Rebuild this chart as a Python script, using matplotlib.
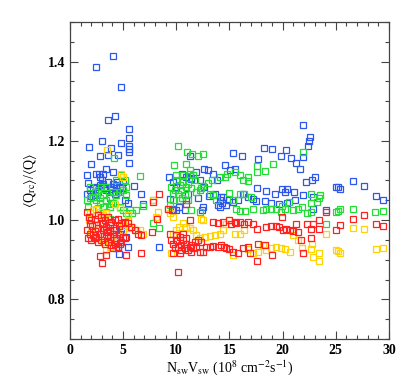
import matplotlib
matplotlib.use("Agg")
import matplotlib.pyplot as plt
from matplotlib.ticker import MultipleLocator

plt.rcParams["font.family"] = ["Liberation Serif", "DejaVu Serif"]
plt.rcParams["mathtext.fontset"] = "stix"

# blue series (x, y)
blue_x = [2.41, 4.08, 4.76, 3.57, 4.26, 5.55, 5.55, 5.55, 5.58, 5.55, 5.55, 1.79, 3.01, 4.80,
          2.00, 2.79, 3.86, 3.61, 4.51, 1.63, 2.76, 3.35, 4.04, 1.69, 5.99, 5.49, 6.65, 6.90,
          8.34, 4.61, 4.51,
          1.63, 1.85, 2.16, 2.48, 2.79, 3.10, 3.42, 3.73, 4.04, 4.36, 4.67, 4.98, 4.51, 4.20,
          2.79, 3.10, 2.48, 2.32, 3.73, 5.14, 4.67, 4.51, 4.83, 5.30, 5.45, 4.36,
          2.00, 2.60, 3.25, 3.90, 4.40, 4.90, 3.00, 3.55,
          21.91, 22.60, 22.48, 22.40, 18.28, 19.03, 20.31, 19.87, 20.81, 21.30, 21.60, 17.65,
          15.33, 16.20, 21.87, 22.20, 23.00, 22.80, 17.55, 18.40, 19.28, 19.90, 20.44, 21.07,
          20.20, 24.98, 25.20, 25.36, 26.65, 27.68, 28.75, 29.44, 24.10, 22.90, 22.87, 21.87,
          21.20, 20.40, 19.70, 18.90, 18.30, 17.50, 17.20, 16.70, 16.27, 15.80, 15.30, 15.00,
          14.40, 14.08, 13.90, 13.60, 13.10, 12.60, 12.50, 12.40, 12.00, 12.20, 11.90, 11.35,
          11.30, 12.60, 13.00, 13.50, 14.60, 15.05, 15.50, 13.80,
          9.31, 9.69, 10.00, 9.37, 9.69, 10.00, 10.30, 10.78, 10.90, 11.10, 10.50, 10.90,
          11.40, 14.20, 14.30, 14.70, 14.10]
blue_y = [1.385, 1.414, 1.337, 1.253, 1.262, 1.230, 1.206, 1.188, 1.180, 1.173, 1.145, 1.184,
          1.199, 1.195, 1.141, 1.163, 1.182, 1.165, 1.165, 1.113, 1.117, 1.129, 1.121, 1.093,
          1.087, 1.042, 1.067, 1.040, 0.931, 0.914, 0.933,
          1.067, 1.075, 1.080, 1.084, 1.088, 1.092, 1.075, 1.084, 1.092, 1.088, 1.084, 1.096,
          1.071, 1.067, 1.109, 1.117, 1.117, 1.063, 1.055, 1.050, 0.950, 0.966, 0.975, 0.958,
          0.933, 0.929,
          1.060, 1.070, 1.082, 1.078, 1.096, 1.080, 1.100, 1.096,
          1.240, 1.210, 1.199, 1.186, 1.181, 1.180, 1.178, 1.163, 1.157, 1.144, 1.130, 1.155,
          1.169, 1.163, 1.159, 1.096, 1.109, 1.101, 1.080, 1.073, 1.067, 1.079, 1.078, 1.072,
          1.071, 1.083, 1.083, 1.079, 1.098, 1.086, 1.061, 1.050, 1.025, 1.027, 1.059, 1.063,
          1.050, 1.042, 1.040, 1.042, 1.049, 1.048, 1.053, 1.059, 1.065, 1.050, 1.046, 1.052,
          1.059, 1.052, 1.039, 1.067, 1.061, 1.084, 1.034, 1.025, 1.055, 1.101, 1.121, 1.103,
          1.161, 1.130, 1.126, 1.117, 1.139, 1.126, 1.129, 1.101,
          1.109, 1.096, 1.084, 1.054, 1.029, 1.025, 1.034, 1.025, 1.050, 1.067, 1.117, 1.109,
          1.105, 1.059, 1.042, 1.038, 1.034]

# green series
green_x = [1.63, 1.85, 2.16, 2.48, 2.79, 3.10, 3.42, 3.73, 4.04, 4.36, 4.67, 4.98, 5.30, 5.14,
           4.83, 4.36, 3.42, 2.95, 2.63, 2.32, 1.85, 4.04, 3.73, 3.10, 2.79, 3.42, 4.67, 4.98,
           5.30, 5.61, 5.86, 6.24, 6.61, 6.87, 1.79, 1.69, 4.14, 5.30, 3.73, 3.89, 2.63,
           10.00, 10.31, 10.63, 10.94, 10.47, 10.16, 9.84, 10.78, 11.10, 11.41, 10.56, 11.10,
           10.31, 11.72, 11.57, 11.25, 10.63, 10.00, 9.53, 9.69,
           10.19, 11.03, 11.50, 12.07, 12.50, 9.75, 10.88, 11.32, 21.93, 19.10, 17.62, 18.31,
           17.62, 16.77, 16.27, 16.77, 15.95, 15.48, 14.79, 14.60, 14.07, 13.40, 12.98, 12.50,
           12.20, 11.90, 26.65, 28.65, 29.43, 25.20, 25.36, 24.98, 24.10, 23.48, 23.38, 23.26,
           22.70, 22.70, 22.70, 22.30, 21.85, 21.40, 20.97, 20.60, 20.20, 19.97, 19.87, 19.40,
           18.90, 18.40, 18.15, 17.20, 16.43, 15.95, 15.64, 15.33, 15.00, 15.95, 16.40, 17.05,
           13.76, 13.45, 13.14, 12.35, 11.40, 12.20, 9.69, 9.37, 9.22, 7.84, 8.37, 7.78]
green_y = [1.050, 1.055, 1.059, 1.050, 1.055, 1.063, 1.050, 1.059, 1.071, 1.063, 1.071, 1.075,
           1.084, 1.101, 1.113, 1.101, 1.084, 1.084, 1.075, 1.071, 1.084, 1.042, 1.034, 1.034,
           1.042, 1.021, 1.034, 1.025, 1.017, 1.025, 1.018, 1.025, 1.111, 1.035, 1.008, 1.034,
           1.157, 1.063, 1.002, 1.040, 1.030,
           1.101, 1.088, 1.096, 1.084, 1.075, 1.067, 1.075, 1.063, 1.092, 1.080, 1.055, 1.050,
           1.050, 1.101, 1.113, 1.117, 1.113, 1.113, 1.084, 1.067,
           1.187, 1.173, 1.166, 1.162, 1.166, 1.138, 1.142, 1.127, 1.173, 1.142, 1.136, 1.124,
           1.122, 1.108, 1.101, 1.098, 1.114, 1.122, 1.116, 1.109, 1.109, 1.101, 1.094, 1.086,
           1.075, 1.071, 1.029, 1.020, 1.023, 1.023, 1.027, 1.020, 0.990, 1.064, 1.055, 1.046,
           1.065, 1.042, 1.021, 1.017, 1.034, 1.027, 1.025, 1.046, 1.029, 1.035, 1.021, 1.029,
           1.029, 1.029, 1.025, 1.029, 1.023, 1.022, 1.029, 1.050, 1.069, 1.067, 1.067, 1.059,
           1.050, 1.063, 1.067, 1.080, 1.025, 1.021, 1.050, 1.038, 1.027, 0.992, 0.979, 1.050]

# yellow series
yellow_x = [2.79, 2.48, 2.16, 1.85, 3.10, 3.42, 3.45, 4.83, 4.98, 3.73, 3.42, 4.98,
            2.00, 2.60, 3.10, 3.90, 4.50, 5.00, 4.70, 4.20, 3.60, 2.30, 5.20, 5.60, 1.80, 3.00,
            26.65, 27.68, 28.75, 29.44, 25.20, 25.36, 24.98, 24.10, 23.38, 23.38, 22.87, 22.70,
            22.80, 21.85, 21.45, 20.97, 20.65, 20.20, 19.87, 19.40, 18.90, 18.45, 18.15, 17.68,
            17.20, 16.73, 16.40, 15.95, 15.48, 15.33, 15.00, 14.70, 14.40, 14.07, 13.60, 13.14,
            12.66, 12.20, 11.90, 11.57, 11.25, 10.94, 10.60, 10.30, 10.00, 9.69, 9.37, 9.69,
            9.53, 8.12, 8.24, 7.78, 6.87, 6.55, 6.17, 5.80, 5.45, 5.45, 12.50, 12.35]
yellow_y = [1.021, 1.029, 1.025, 1.017, 1.013, 1.017, 1.177, 1.117, 1.109, 0.933, 0.924, 0.975,
            0.970, 0.955, 0.945, 0.950, 0.960, 0.990, 1.030, 1.040, 1.005, 0.990, 0.985, 0.980,
            1.000, 0.980,
            0.980, 0.977, 0.926, 0.929, 0.923, 0.916, 0.924, 0.966, 0.897, 0.916, 0.908, 0.926,
            0.941, 0.929, 0.950, 0.962, 0.920, 0.926, 0.929, 0.931, 0.929, 0.924, 0.937, 0.919,
            0.916, 0.926, 0.975, 0.966, 0.965, 0.912, 1.000, 0.990, 0.975, 0.966, 0.962, 0.960,
            0.958, 0.954, 0.962, 0.975, 0.979, 0.983, 0.992, 0.983, 0.975, 0.966, 1.017, 1.008,
            0.916, 1.007, 1.020, 1.052, 0.966, 0.975, 0.975, 0.983, 1.000, 1.013, 1.000, 1.004]

# red series
red_x = [1.63, 1.79, 2.01, 2.32, 2.63, 2.95, 3.26, 3.57, 3.89, 4.20, 4.51, 4.83, 5.14, 5.45,
         5.77, 6.08, 6.39, 6.71, 1.63, 1.85, 2.16, 2.48, 2.79, 3.10, 3.42, 3.73, 4.04, 4.36,
         4.67, 4.98, 1.69, 2.01, 2.32, 2.63, 2.95, 3.26, 3.57, 3.89, 4.20, 4.51, 4.83, 5.14,
         3.10, 3.73, 4.36, 4.04, 3.04, 2.82, 3.35, 5.30, 6.65,
         2.10, 2.60, 3.20, 3.45, 3.80, 4.10, 4.30, 4.60, 3.00, 3.60, 2.40, 4.75, 1.90,
         8.37, 7.80, 8.18, 7.75, 9.22, 9.37, 9.62, 10.19,
         9.69, 10.00, 10.31, 10.63, 10.94, 11.25, 11.57, 11.88, 10.47, 10.16, 9.84, 10.78,
         11.10, 11.41, 11.72, 10.00, 9.53, 10.94, 10.47, 9.69, 10.31, 11.41, 11.32, 10.88, 10.60,
         29.44, 28.75, 27.68, 26.65, 25.36, 24.98, 24.10, 23.38, 23.38, 22.87, 22.70, 22.70,
         22.30, 21.93, 21.77, 21.45, 21.30, 20.97, 20.65, 20.35, 20.00, 19.97, 19.70, 19.40,
         19.03, 18.90, 18.45, 18.30, 17.68, 17.62, 17.55, 17.20, 16.70, 16.40, 15.95, 15.64,
         15.48, 15.17, 14.95, 16.90, 16.70, 16.27, 15.80, 15.33, 15.00, 14.70, 14.45, 14.20,
         13.90, 13.45, 13.14, 12.82, 12.50, 12.20, 12.04, 12.35, 13.45, 13.90, 14.40]
red_y = [1.021, 1.008, 1.000, 1.004, 1.013, 1.008, 1.000, 1.008, 0.996, 1.000, 1.004, 0.992,
         0.996, 0.992, 0.983, 0.975, 0.966, 0.962, 0.975, 0.966, 0.962, 0.958, 0.966, 0.975,
         0.983, 0.975, 0.966, 0.975, 0.966, 0.958, 0.954, 0.950, 0.954, 0.945, 0.950, 0.941,
         0.945, 0.937, 0.941, 0.933, 0.945, 0.954, 0.992, 0.987, 0.950, 0.929, 0.892, 0.909,
         0.912, 0.912, 0.918,
         0.985, 0.980, 0.960, 0.970, 0.958, 0.980, 0.955, 0.985, 0.990, 0.962, 0.972, 0.940,
         0.990,
         1.065, 1.046, 1.004, 0.971, 1.027, 0.966, 1.025, 0.870,
         0.941, 0.950, 0.958, 0.950, 0.941, 0.933, 0.929, 0.933, 0.937, 0.933, 0.929, 0.929,
         0.924, 0.937, 0.945, 0.962, 0.950, 0.954, 0.924, 0.916, 0.916, 0.920, 1.000, 1.040, 0.966,
         0.986, 0.990, 1.014, 1.002, 0.988, 0.975, 1.020, 0.977, 1.000, 0.991, 0.956, 0.977,
         0.990, 0.916, 0.950, 0.971, 0.990, 0.973, 0.975, 0.977, 0.975, 1.008, 0.983, 0.985,
         0.912, 0.985, 0.983, 0.937, 0.941, 0.897, 0.977, 0.990, 0.996, 0.990, 0.996, 0.992,
         0.996, 0.990, 1.000, 0.917, 0.931, 0.929, 0.917, 0.920, 0.926, 0.929, 0.933, 0.937,
         0.933, 0.935, 0.933, 0.933, 0.920, 0.920, 0.950, 0.946, 0.996, 0.992, 0.996]

series = [
    (blue_x, blue_y, "#2b57ee"),
    (green_x, green_y, "#22dd33"),
    (yellow_x, yellow_y, "#ffd200"),
    (red_x, red_y, "#ff2020"),
]

fig = plt.figure(figsize=(4.09, 3.84), dpi=100)
ax = fig.add_axes([0.171, 0.117, 0.78, 0.826])

for xs, ys, color in series:
    ax.plot(xs, ys, linestyle="none", marker="s", markersize=4.0,
            markerfacecolor="none", markeredgecolor=color, markeredgewidth=0.9)

ax.set_xlim(0, 30)
ax.set_ylim(0.7, 1.5)
ax.xaxis.set_major_locator(MultipleLocator(5))
ax.xaxis.set_minor_locator(MultipleLocator(1))
ax.yaxis.set_major_locator(MultipleLocator(0.2))
ax.yaxis.set_minor_locator(MultipleLocator(0.05))
ax.tick_params(which="both", direction="in", top=True, right=True, color="#444444",
               labelsize=10)
ax.tick_params(which="major", length=6, width=0.8)
ax.tick_params(which="minor", length=3, width=0.8)
ax.set_yticks([0.8, 1.0, 1.2, 1.4])
ax.set_yticklabels(["0.8", "1.0", "1.2", "1.4"], fontweight="bold")
for lab in ax.get_xticklabels():
    lab.set_fontweight("bold")
for spine in ax.spines.values():
    spine.set_color("#444444")
    spine.set_linewidth(0.9)

ax.set_xlabel(r"N$_{\rm sw}$V$_{\rm sw}$ (10$^{8}$ cm$^{-2}$s$^{-1}$)", fontsize=10,
              labelpad=1)
ax.set_ylabel(r"$\langle$Q$_{\rm rc}\rangle$/$\langle$Q$\rangle$", fontsize=10, labelpad=6)

fig.savefig("out.png", dpi=100)
